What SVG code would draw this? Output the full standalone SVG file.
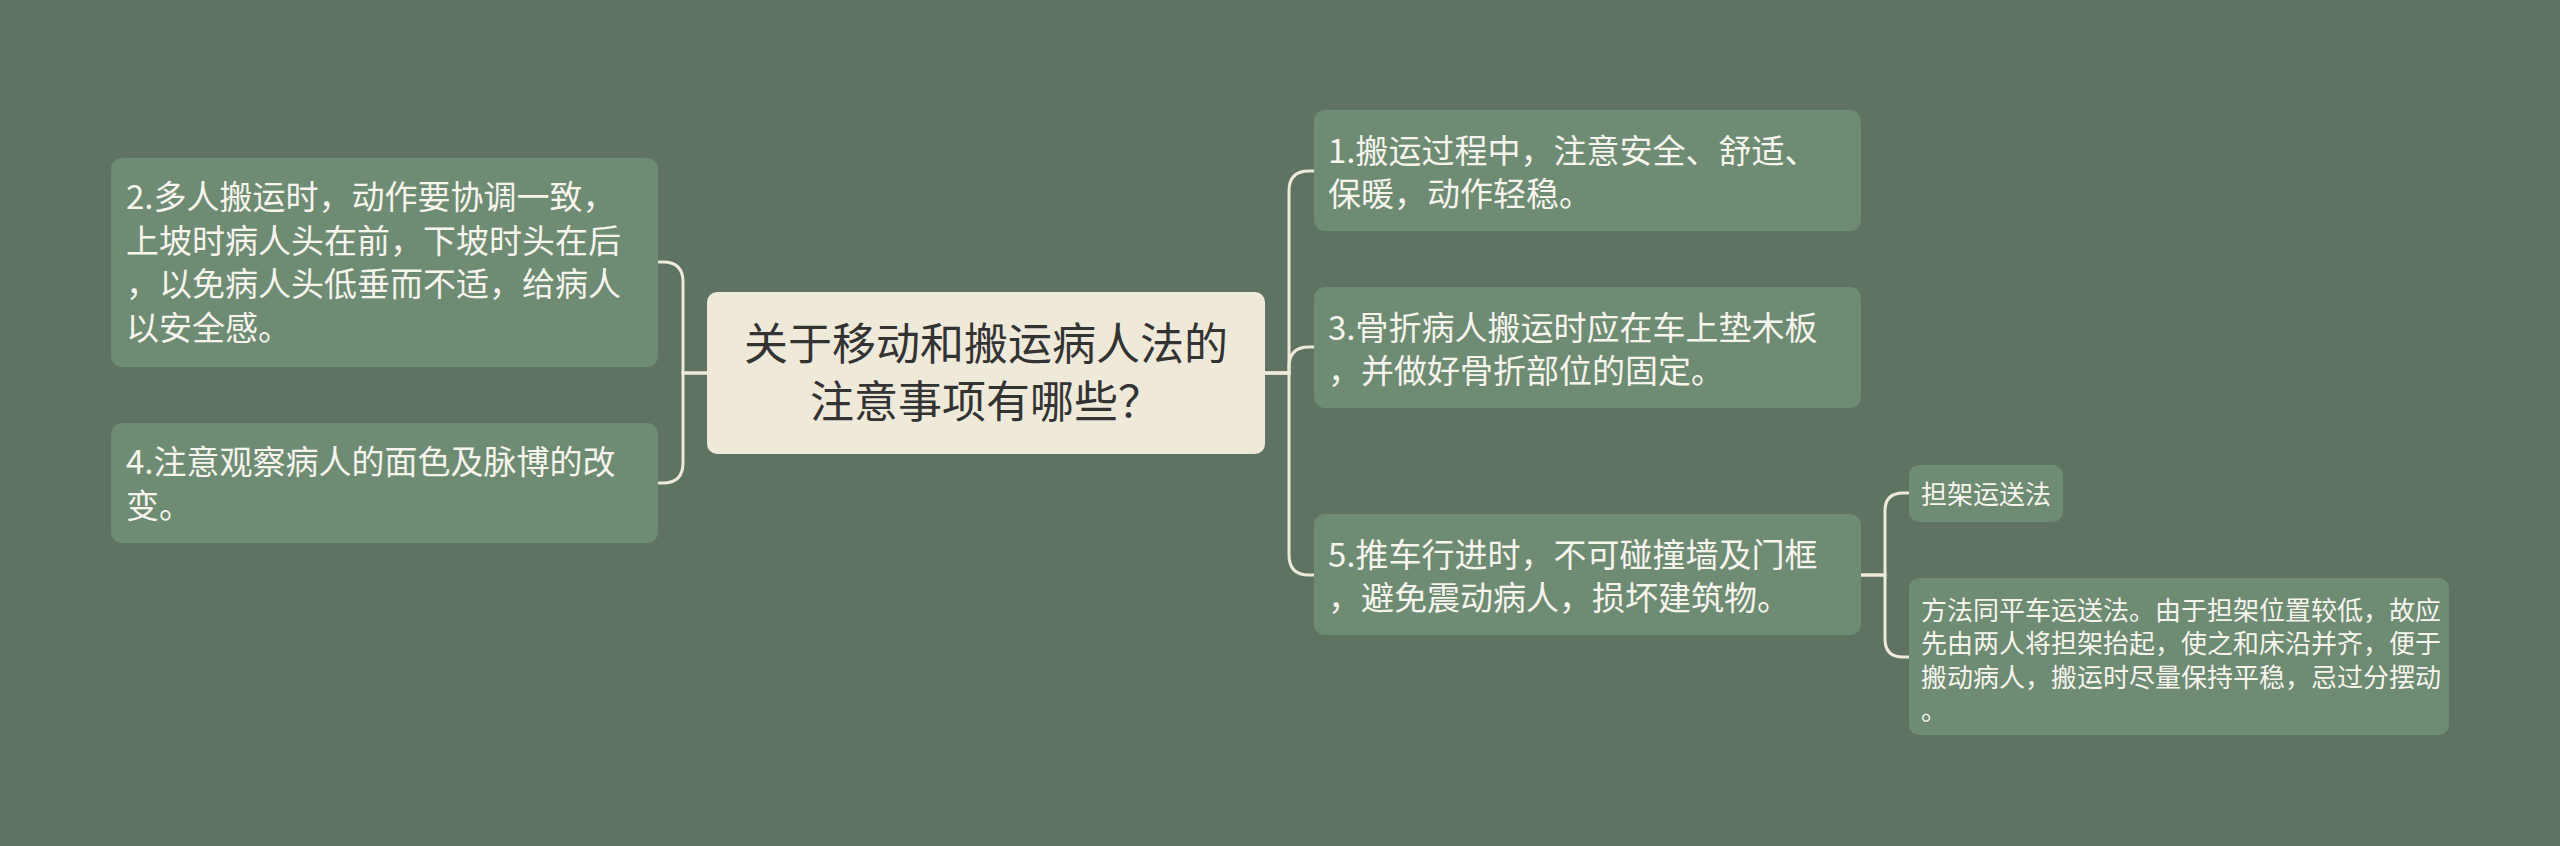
<svg xmlns="http://www.w3.org/2000/svg" width="2560" height="846" viewBox="0 0 2560 846">
<style>
.bg{fill:#5f7363}
.node{fill:#6e8b74}
.root{fill:#efe9da}
.t{font-family:"Noto Sans CJK SC","Noto Sans",sans-serif;font-size:33px;fill:#f6f4ec}
.ts{font-family:"Noto Sans CJK SC","Noto Sans",sans-serif;font-size:26px;fill:#f6f4ec}
.tr{font-family:"Noto Sans CJK SC","Noto Sans",sans-serif;font-size:44px;fill:#333333;text-anchor:middle}
.c{fill:none;stroke:#efe9da;stroke-width:3;stroke-linecap:round}
</style>
<rect class="bg" x="0" y="0" width="2560" height="846"/>
<g id="connectors">
<path class="c" d="M707 373 H683 V282 Q683 262 663 262 H657"/>
<path class="c" d="M707 373 H683 V463 Q683 483 663 483 H657"/>
<path class="c" d="M1265 373 H1289 V191 Q1289 171 1309 171 H1314"/>
<path class="c" d="M1265 373 H1289 V367 Q1289 347 1309 347 H1314"/>
<path class="c" d="M1265 373 H1289 V555 Q1289 575 1309 575 H1314"/>
<path class="c" d="M1861 575 H1885 V511 Q1885 493 1903 493 H1909"/>
<path class="c" d="M1861 575 H1885 V639 Q1885 657 1903 657 H1909"/>
</g>
<g id="root">
<rect class="root" x="707" y="292" width="558" height="162" rx="10"/>
<text class="tr" x="986" y="360">关于移动和搬运病人法的</text>
<text class="tr" x="986" y="418">注意事项有哪些？</text>
</g>
<g id="n2">
<rect class="node" x="111" y="158" width="547" height="209" rx="11"/>
<text class="t" x="126" y="209">2.多人搬运时，动作要协调一致，</text>
<text class="t" x="126" y="252.6">上坡时病人头在前，下坡时头在后</text>
<text class="t" x="126" y="296.2">，以免病人头低垂而不适，给病人</text>
<text class="t" x="126" y="339.8">以安全感。</text>
</g>
<g id="n4">
<rect class="node" x="111" y="423" width="547" height="120" rx="11"/>
<text class="t" x="126" y="474">4.注意观察病人的面色及脉博的改</text>
<text class="t" x="126" y="518">变。</text>
</g>
<g id="n1">
<rect class="node" x="1314" y="110" width="547" height="121" rx="11"/>
<text class="t" x="1328" y="163">1.搬运过程中，注意安全、舒适、</text>
<text class="t" x="1328" y="206">保暖，动作轻稳。</text>
</g>
<g id="n3">
<rect class="node" x="1314" y="287" width="547" height="121" rx="11"/>
<text class="t" x="1328" y="339.5">3.骨折病人搬运时应在车上垫木板</text>
<text class="t" x="1328" y="383">，并做好骨折部位的固定。</text>
</g>
<g id="n5">
<rect class="node" x="1314" y="514" width="547" height="121" rx="11"/>
<text class="t" x="1328" y="566.5">5.推车行进时，不可碰撞墙及门框</text>
<text class="t" x="1328" y="610">，避免震动病人，损坏建筑物。</text>
</g>
<g id="s1">
<rect class="node" x="1909" y="465" width="154" height="57" rx="10"/>
<text class="ts" x="1921" y="503.5">担架运送法</text>
</g>
<g id="s2">
<rect class="node" x="1909" y="578" width="540" height="157" rx="10"/>
<text class="ts" x="1921" y="619.5">方法同平车运送法。由于担架位置较低，故应</text>
<text class="ts" x="1921" y="653">先由两人将担架抬起，使之和床沿并齐，便于</text>
<text class="ts" x="1921" y="686.5">搬动病人，搬运时尽量保持平稳，忌过分摆动</text>
<text class="ts" x="1921" y="720">。</text>
</g>
</svg>
